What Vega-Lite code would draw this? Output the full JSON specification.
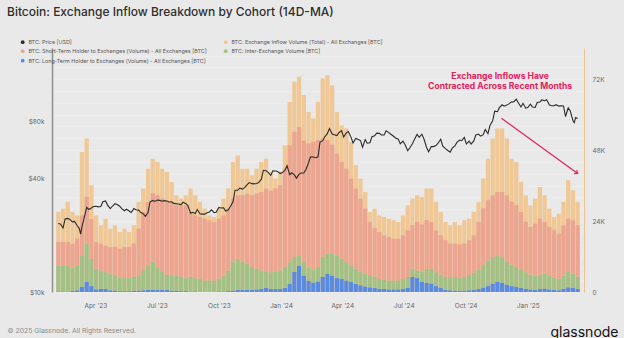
{
  "$schema": "https://vega.github.io/schema/vega-lite/v6.json",
  "width": 532,
  "height": 244,
  "autosize": {"type": "none"},
  "padding": {"left": 52, "top": 48, "right": 40, "bottom": 46},
  "background": "#e9e9e9",
  "config": {"view": {"stroke": null}, "font": "Inter", "text": {"font": "Inter"}},
  "title": {"text": "Bitcoin: Exchange Inflow Breakdown by Cohort (14D-MA)", "anchor": "start", "frame": "group", "dx": -45, "offset": 20, "fontSize": 12, "fontWeight": 500, "color": "#2e2e2e", "font": "Inter"},
  "datasets": {
    "weeks": [
      {"d":"2023-02-05","total":27100,"lth":200,"inter":8800,"sth":7900},
      {"d":"2023-02-12","total":28200,"lth":200,"inter":8800,"sth":7900},
      {"d":"2023-02-19","total":30500,"lth":200,"inter":8600,"sth":8100},
      {"d":"2023-02-26","total":27100,"lth":300,"inter":8100,"sth":7900},
      {"d":"2023-03-05","total":25900,"lth":600,"inter":8500,"sth":9000},
      {"d":"2023-03-12","total":47400,"lth":1700,"inter":10700,"sth":13500},
      {"d":"2023-03-19","total":51900,"lth":3400,"inter":13000,"sth":15800},
      {"d":"2023-03-26","total":36100,"lth":2000,"inter":9200,"sth":13500},
      {"d":"2023-04-02","total":25900,"lth":900,"inter":7000,"sth":9000},
      {"d":"2023-04-09","total":22600,"lth":1100,"inter":6200,"sth":9000},
      {"d":"2023-04-16","total":24800,"lth":1100,"inter":5600,"sth":9000},
      {"d":"2023-04-23","total":21400,"lth":600,"inter":5600,"sth":9000},
      {"d":"2023-04-30","total":22600,"lth":500,"inter":5200,"sth":9600},
      {"d":"2023-05-07","total":20300,"lth":300,"inter":4700,"sth":9600},
      {"d":"2023-05-14","total":21400,"lth":300,"inter":4700,"sth":10200},
      {"d":"2023-05-21","total":20300,"lth":300,"inter":4400,"sth":10500},
      {"d":"2023-05-28","total":22600,"lth":500,"inter":4600,"sth":11300},
      {"d":"2023-06-04","total":30500,"lth":500,"inter":5200,"sth":15800},
      {"d":"2023-06-11","total":35000,"lth":600,"inter":6800,"sth":19700},
      {"d":"2023-06-18","total":41700,"lth":700,"inter":8300,"sth":21400},
      {"d":"2023-06-25","total":45100,"lth":800,"inter":9500,"sth":23100},
      {"d":"2023-07-02","total":44000,"lth":700,"inter":7700,"sth":24300},
      {"d":"2023-07-09","total":41700,"lth":800,"inter":6000,"sth":24800},
      {"d":"2023-07-16","total":40600,"lth":700,"inter":5100,"sth":24600},
      {"d":"2023-07-23","total":37200,"lth":500,"inter":5200,"sth":24400},
      {"d":"2023-07-30","total":32700,"lth":500,"inter":5000,"sth":23900},
      {"d":"2023-08-06","total":31600,"lth":300,"inter":4800,"sth":24300},
      {"d":"2023-08-13","total":32700,"lth":300,"inter":4700,"sth":24300},
      {"d":"2023-08-20","total":35000,"lth":200,"inter":4900,"sth":22000},
      {"d":"2023-08-27","total":32700,"lth":200,"inter":4500,"sth":21200},
      {"d":"2023-09-03","total":30500,"lth":100,"inter":4400,"sth":20900},
      {"d":"2023-09-10","total":28200,"lth":100,"inter":3800,"sth":20900},
      {"d":"2023-09-17","total":25900,"lth":100,"inter":3800,"sth":20300},
      {"d":"2023-09-24","total":25400,"lth":100,"inter":3800,"sth":19700},
      {"d":"2023-10-01","total":28200,"lth":200,"inter":4300,"sth":20300},
      {"d":"2023-10-08","total":31600,"lth":200,"inter":5400,"sth":20300},
      {"d":"2023-10-15","total":35000,"lth":300,"inter":7000,"sth":20900},
      {"d":"2023-10-22","total":44000,"lth":500,"inter":9700,"sth":21400},
      {"d":"2023-10-29","total":46200,"lth":700,"inter":10600,"sth":21400},
      {"d":"2023-11-05","total":41700,"lth":700,"inter":9500,"sth":22600},
      {"d":"2023-11-12","total":41700,"lth":800,"inter":8800,"sth":23700},
      {"d":"2023-11-19","total":39500,"lth":800,"inter":7600,"sth":24300},
      {"d":"2023-11-26","total":41700,"lth":900,"inter":7000,"sth":25400},
      {"d":"2023-12-03","total":44000,"lth":1100,"inter":6200,"sth":26500},
      {"d":"2023-12-10","total":45100,"lth":1400,"inter":5400,"sth":28200},
      {"d":"2023-12-17","total":40600,"lth":1100,"inter":5600,"sth":27600},
      {"d":"2023-12-24","total":38400,"lth":1000,"inter":5800,"sth":28200},
      {"d":"2023-12-31","total":40600,"lth":1000,"inter":6300,"sth":28800},
      {"d":"2024-01-07","total":49600,"lth":1400,"inter":7100,"sth":33300},
      {"d":"2024-01-14","total":64300,"lth":2800,"inter":7300,"sth":39500},
      {"d":"2024-01-21","total":71100,"lth":6800,"inter":5100,"sth":42300},
      {"d":"2024-01-28","total":72800,"lth":8800,"inter":3600,"sth":43400},
      {"d":"2024-02-04","total":66600,"lth":5600,"inter":4500,"sth":41100},
      {"d":"2024-02-11","total":60900,"lth":3900,"inter":4200,"sth":42100},
      {"d":"2024-02-18","total":58700,"lth":3200,"inter":4200,"sth":43400},
      {"d":"2024-02-25","total":64300,"lth":3600,"inter":4900,"sth":42900},
      {"d":"2024-03-03","total":72200,"lth":5100,"inter":6800,"sth":40000},
      {"d":"2024-03-10","total":73300,"lth":6200,"inter":6800,"sth":38400},
      {"d":"2024-03-17","total":69900,"lth":5600,"inter":7300,"sth":36900},
      {"d":"2024-03-24","total":60900,"lth":4700,"inter":7700,"sth":34400},
      {"d":"2024-03-31","total":56400,"lth":4500,"inter":6800,"sth":32700},
      {"d":"2024-04-07","total":55300,"lth":3900,"inter":6200,"sth":31600},
      {"d":"2024-04-14","total":50800,"lth":3400,"inter":5400,"sth":29600},
      {"d":"2024-04-21","total":42900,"lth":2800,"inter":5100,"sth":27100},
      {"d":"2024-04-28","total":38400,"lth":2300,"inter":4700,"sth":24600},
      {"d":"2024-05-05","total":33800,"lth":1900,"inter":4300,"sth":22000},
      {"d":"2024-05-12","total":27100,"lth":1600,"inter":4100,"sth":18000},
      {"d":"2024-05-19","total":28200,"lth":1400,"inter":3800,"sth":16400},
      {"d":"2024-05-26","total":25900,"lth":1100,"inter":3400,"sth":15800},
      {"d":"2024-06-02","total":25400,"lth":1000,"inter":3200,"sth":14900},
      {"d":"2024-06-09","total":24800,"lth":900,"inter":3000,"sth":14700},
      {"d":"2024-06-16","total":24300,"lth":900,"inter":3000,"sth":14100},
      {"d":"2024-06-23","total":23700,"lth":900,"inter":3000,"sth":14100},
      {"d":"2024-06-30","total":25900,"lth":1000,"inter":3500,"sth":14700},
      {"d":"2024-07-07","total":29300,"lth":1400,"inter":3700,"sth":15800},
      {"d":"2024-07-14","total":31600,"lth":5100,"inter":2800,"sth":14700},
      {"d":"2024-07-21","total":32700,"lth":4700,"inter":2600,"sth":16400},
      {"d":"2024-07-28","total":32100,"lth":3400,"inter":3400,"sth":16000},
      {"d":"2024-08-04","total":35000,"lth":3200,"inter":4700,"sth":16400},
      {"d":"2024-08-11","total":35000,"lth":2900,"inter":5000,"sth":15800},
      {"d":"2024-08-18","total":30500,"lth":2000,"inter":4700,"sth":14100},
      {"d":"2024-08-25","total":27100,"lth":1500,"inter":4400,"sth":13300},
      {"d":"2024-09-01","total":23700,"lth":800,"inter":4300,"sth":12400},
      {"d":"2024-09-08","total":22600,"lth":600,"inter":4500,"sth":11300},
      {"d":"2024-09-15","total":23700,"lth":500,"inter":4600,"sth":11300},
      {"d":"2024-09-22","total":22600,"lth":500,"inter":4300,"sth":11300},
      {"d":"2024-09-29","total":24300,"lth":500,"inter":4600,"sth":11300},
      {"d":"2024-10-06","total":24800,"lth":600,"inter":5100,"sth":11800},
      {"d":"2024-10-13","total":27100,"lth":700,"inter":5900,"sth":12600},
      {"d":"2024-10-20","total":30500,"lth":1000,"inter":6700,"sth":16000},
      {"d":"2024-10-27","total":38400,"lth":1500,"inter":7600,"sth":19200},
      {"d":"2024-11-03","total":45100,"lth":2000,"inter":8700,"sth":20300},
      {"d":"2024-11-10","total":51900,"lth":2800,"inter":9000,"sth":20900},
      {"d":"2024-11-17","total":55300,"lth":3400,"inter":9000,"sth":21400},
      {"d":"2024-11-24","total":55300,"lth":3200,"inter":8300,"sth":22300},
      {"d":"2024-12-01","total":51900,"lth":2500,"inter":7900,"sth":22300},
      {"d":"2024-12-08","total":45100,"lth":2000,"inter":7200,"sth":21400},
      {"d":"2024-12-15","total":44000,"lth":1700,"inter":6800,"sth":20900},
      {"d":"2024-12-22","total":37200,"lth":1400,"inter":6300,"sth":19400},
      {"d":"2024-12-29","total":32700,"lth":1100,"inter":5600,"sth":17100},
      {"d":"2025-01-05","total":29300,"lth":900,"inter":5000,"sth":16100},
      {"d":"2025-01-12","total":31600,"lth":800,"inter":4800,"sth":17500},
      {"d":"2025-01-19","total":35500,"lth":1000,"inter":4900,"sth":19000},
      {"d":"2025-01-26","total":32700,"lth":1200,"inter":5000,"sth":17500},
      {"d":"2025-02-02","total":28200,"lth":900,"inter":4500,"sth":16600},
      {"d":"2025-02-09","total":25400,"lth":700,"inter":4100,"sth":16100},
      {"d":"2025-02-16","total":26500,"lth":600,"inter":3900,"sth":15200},
      {"d":"2025-02-23","total":30500,"lth":1100,"inter":4500,"sth":16900},
      {"d":"2025-03-02","total":37800,"lth":1600,"inter":5200,"sth":18000},
      {"d":"2025-03-09","total":34400,"lth":1400,"inter":4800,"sth":18000},
      {"d":"2025-03-16","total":30500,"lth":1100,"inter":4000,"sth":17500}
    ],
    "prices": [
      {"d":"2023-02-05","p":23000},{"d":"2023-02-08","p":22900},{"d":"2023-02-12","p":21800},{"d":"2023-02-15","p":24300},
      {"d":"2023-02-19","p":24500},{"d":"2023-02-22","p":24200},{"d":"2023-02-26","p":23500},{"d":"2023-03-01","p":23600},
      {"d":"2023-03-05","p":22400},{"d":"2023-03-08","p":21700},{"d":"2023-03-10","p":20200},{"d":"2023-03-12","p":22100},
      {"d":"2023-03-15","p":24400},{"d":"2023-03-19","p":28000},{"d":"2023-03-22","p":27300},{"d":"2023-03-26","p":27800},
      {"d":"2023-03-29","p":28300},{"d":"2023-04-02","p":28400},{"d":"2023-04-05","p":28200},{"d":"2023-04-09","p":28300},
      {"d":"2023-04-12","p":30000},{"d":"2023-04-16","p":30300},{"d":"2023-04-19","p":28800},{"d":"2023-04-23","p":27600},
      {"d":"2023-04-26","p":28400},{"d":"2023-04-30","p":29300},{"d":"2023-05-03","p":29000},{"d":"2023-05-07","p":28400},
      {"d":"2023-05-10","p":27600},{"d":"2023-05-14","p":26900},{"d":"2023-05-17","p":27400},{"d":"2023-05-21","p":26800},
      {"d":"2023-05-24","p":26300},{"d":"2023-05-28","p":27600},{"d":"2023-05-31","p":27200},{"d":"2023-06-04","p":27100},
      {"d":"2023-06-07","p":26400},{"d":"2023-06-11","p":25900},{"d":"2023-06-14","p":25100},{"d":"2023-06-18","p":26300},
      {"d":"2023-06-21","p":30000},{"d":"2023-06-25","p":30500},{"d":"2023-06-28","p":30100},{"d":"2023-07-02","p":30600},
      {"d":"2023-07-05","p":30500},{"d":"2023-07-09","p":30200},{"d":"2023-07-12","p":30400},{"d":"2023-07-16","p":30300},
      {"d":"2023-07-19","p":29900},{"d":"2023-07-23","p":30000},{"d":"2023-07-26","p":29400},{"d":"2023-07-30","p":29300},
      {"d":"2023-08-02","p":29200},{"d":"2023-08-06","p":29000},{"d":"2023-08-09","p":29800},{"d":"2023-08-13","p":29300},
      {"d":"2023-08-16","p":28700},{"d":"2023-08-20","p":26100},{"d":"2023-08-23","p":26400},{"d":"2023-08-27","p":26000},
      {"d":"2023-08-30","p":27300},{"d":"2023-09-03","p":25900},{"d":"2023-09-06","p":25800},{"d":"2023-09-10","p":25800},
      {"d":"2023-09-13","p":26200},{"d":"2023-09-17","p":26500},{"d":"2023-09-20","p":27200},{"d":"2023-09-24","p":26300},
      {"d":"2023-09-27","p":26400},{"d":"2023-10-01","p":28000},{"d":"2023-10-04","p":27800},{"d":"2023-10-08","p":27900},
      {"d":"2023-10-11","p":26800},{"d":"2023-10-15","p":27200},{"d":"2023-10-18","p":28300},{"d":"2023-10-22","p":30000},
      {"d":"2023-10-25","p":34500},{"d":"2023-10-29","p":34500},{"d":"2023-11-01","p":35400},{"d":"2023-11-05","p":35000},
      {"d":"2023-11-08","p":35600},{"d":"2023-11-12","p":37000},{"d":"2023-11-15","p":37900},{"d":"2023-11-19","p":37400},
      {"d":"2023-11-22","p":37300},{"d":"2023-11-26","p":37500},{"d":"2023-11-29","p":37900},{"d":"2023-12-03","p":39500},
      {"d":"2023-12-06","p":44000},{"d":"2023-12-10","p":43800},{"d":"2023-12-13","p":42900},{"d":"2023-12-17","p":41400},
      {"d":"2023-12-20","p":43700},{"d":"2023-12-24","p":43600},{"d":"2023-12-27","p":43400},{"d":"2023-12-31","p":42300},
      {"d":"2024-01-03","p":42800},{"d":"2024-01-07","p":43900},{"d":"2024-01-10","p":46600},{"d":"2024-01-14","p":41700},
      {"d":"2024-01-17","p":42700},{"d":"2024-01-21","p":41600},{"d":"2024-01-24","p":40000},{"d":"2024-01-28","p":42000},
      {"d":"2024-01-31","p":42600},{"d":"2024-02-04","p":42600},{"d":"2024-02-07","p":44300},{"d":"2024-02-11","p":48300},
      {"d":"2024-02-14","p":51800},{"d":"2024-02-18","p":51700},{"d":"2024-02-21","p":51300},{"d":"2024-02-25","p":51700},
      {"d":"2024-02-28","p":62000},{"d":"2024-03-03","p":63100},{"d":"2024-03-06","p":66100},{"d":"2024-03-10","p":68900},
      {"d":"2024-03-13","p":73100},{"d":"2024-03-17","p":68400},{"d":"2024-03-20","p":67900},{"d":"2024-03-24","p":67200},
      {"d":"2024-03-27","p":69500},{"d":"2024-03-31","p":71300},{"d":"2024-04-03","p":66000},{"d":"2024-04-07","p":69400},
      {"d":"2024-04-10","p":70600},{"d":"2024-04-14","p":65700},{"d":"2024-04-17","p":61300},{"d":"2024-04-21","p":64900},
      {"d":"2024-04-24","p":64300},{"d":"2024-04-28","p":63100},{"d":"2024-05-01","p":58300},{"d":"2024-05-05","p":64000},
      {"d":"2024-05-08","p":61200},{"d":"2024-05-12","p":61500},{"d":"2024-05-15","p":66200},{"d":"2024-05-19","p":66900},
      {"d":"2024-05-22","p":69200},{"d":"2024-05-26","p":69000},{"d":"2024-05-29","p":67600},{"d":"2024-06-02","p":67700},
      {"d":"2024-06-05","p":71100},{"d":"2024-06-09","p":69600},{"d":"2024-06-12","p":68200},{"d":"2024-06-16","p":66600},
      {"d":"2024-06-19","p":65200},{"d":"2024-06-23","p":64300},{"d":"2024-06-26","p":60800},{"d":"2024-06-30","p":62700},
      {"d":"2024-07-03","p":60200},{"d":"2024-07-07","p":55900},{"d":"2024-07-10","p":57700},{"d":"2024-07-14","p":60800},
      {"d":"2024-07-17","p":64100},{"d":"2024-07-21","p":68200},{"d":"2024-07-24","p":65800},{"d":"2024-07-28","p":68300},
      {"d":"2024-07-31","p":64600},{"d":"2024-08-04","p":58100},{"d":"2024-08-07","p":55100},{"d":"2024-08-11","p":58700},
      {"d":"2024-08-14","p":58700},{"d":"2024-08-18","p":59500},{"d":"2024-08-21","p":61200},{"d":"2024-08-25","p":64200},
      {"d":"2024-08-28","p":59000},{"d":"2024-09-01","p":57300},{"d":"2024-09-04","p":56200},{"d":"2024-09-08","p":54800},
      {"d":"2024-09-11","p":57600},{"d":"2024-09-15","p":59200},{"d":"2024-09-18","p":61800},{"d":"2024-09-22","p":63600},
      {"d":"2024-09-25","p":63100},{"d":"2024-09-29","p":65600},{"d":"2024-10-02","p":60600},{"d":"2024-10-06","p":62800},
      {"d":"2024-10-09","p":60600},{"d":"2024-10-13","p":62900},{"d":"2024-10-16","p":67600},{"d":"2024-10-20","p":68400},
      {"d":"2024-10-23","p":66700},{"d":"2024-10-27","p":67900},{"d":"2024-10-30","p":72300},{"d":"2024-11-03","p":68700},
      {"d":"2024-11-06","p":75900},{"d":"2024-11-10","p":80400},{"d":"2024-11-13","p":90400},{"d":"2024-11-17","p":89800},
      {"d":"2024-11-20","p":94300},{"d":"2024-11-24","p":97700},{"d":"2024-11-27","p":96000},{"d":"2024-12-01","p":97300},
      {"d":"2024-12-04","p":98800},{"d":"2024-12-08","p":101200},{"d":"2024-12-11","p":101100},{"d":"2024-12-15","p":104500},
      {"d":"2024-12-18","p":100200},{"d":"2024-12-22","p":95100},{"d":"2024-12-25","p":99400},{"d":"2024-12-29","p":93700},
      {"d":"2025-01-01","p":94500},{"d":"2025-01-05","p":98300},{"d":"2025-01-08","p":95000},{"d":"2025-01-12","p":94500},
      {"d":"2025-01-15","p":100500},{"d":"2025-01-19","p":101100},{"d":"2025-01-22","p":103700},{"d":"2025-01-26","p":102600},
      {"d":"2025-01-29","p":103800},{"d":"2025-02-02","p":97700},{"d":"2025-02-05","p":96600},{"d":"2025-02-09","p":96500},
      {"d":"2025-02-12","p":97800},{"d":"2025-02-16","p":96100},{"d":"2025-02-19","p":96600},{"d":"2025-02-23","p":96300},
      {"d":"2025-02-26","p":84700},{"d":"2025-03-02","p":94200},{"d":"2025-03-05","p":90600},{"d":"2025-03-09","p":80700},
      {"d":"2025-03-11","p":78600},{"d":"2025-03-13","p":83700},{"d":"2025-03-16","p":82600}
    ]
  },
  "data": {"name": "weeks"},
  "encoding": {
    "x": {
      "field": "d", "type": "temporal",
      "scale": {"type": "utc", "domain": [{"year": 2023, "month": 2, "date": 3, "utc": true}, {"year": 2025, "month": 3, "date": 18, "utc": true}]},
      "axis": {
        "values": [
          {"year": 2023, "month": 4, "date": 1, "utc": true},
          {"year": 2023, "month": 7, "date": 1, "utc": true},
          {"year": 2023, "month": 10, "date": 1, "utc": true},
          {"year": 2024, "month": 1, "date": 1, "utc": true},
          {"year": 2024, "month": 4, "date": 1, "utc": true},
          {"year": 2024, "month": 7, "date": 1, "utc": true},
          {"year": 2024, "month": 10, "date": 1, "utc": true},
          {"year": 2025, "month": 1, "date": 1, "utc": true}
        ],
        "labelExpr": "utcFormat(datum.value, \"%b '%y\")",
        "labelFontSize": 6.5, "labelColor": "#666666", "labelPadding": 10, "tickSize": 0, "domain": false, "grid": false,
        "title": "© 2025 Glassnode. All Rights Reserved.", "titleX": -45, "titleY": 38, "titleAlign": "left", "titleAnchor": "start", "titleBaseline": "middle",
        "titleFontSize": 6.8, "titleFontWeight": "normal", "titleColor": "#8a8a8a"
      }
    }
  },
  "layer": [
    {
      "mark": {"type": "bar", "width": 4.3},
      "encoding": {
        "y": {
          "field": "total", "type": "quantitative",
          "scale": {"domain": [0, 82540]},
          "axis": {
            "orient": "right",
            "values": [0, 4000, 8000, 12000, 16000, 20000, 24000, 28000, 32000, 36000, 40000, 44000, 48000, 52000, 56000, 60000, 64000, 68000, 72000, 76000, 80000],
            "labelExpr": "datum.value % 24000 == 0 ? (datum.value == 0 ? '0' : (datum.value / 1000) + 'K') : ''",
            "grid": true, "gridColor": "#f0f0f0", "gridWidth": 0.6,
            "tickSize": 0, "labelPadding": 8, "labelFontSize": 6.5, "labelColor": "#666666",
            "domainColor": "#f0c38e", "domainWidth": 1,
            "title": "glassnode", "titleAngle": 0, "titleX": -34, "titleY": 284, "titleAlign": "left", "titleBaseline": "middle",
            "titleFontSize": 14, "titleFontWeight": "normal", "titleColor": "#111111"
          }
        },
        "color": {
          "datum": "total",
          "scale": {"domain": ["price", "sth", "lth", "total", "inter"], "range": ["#2b2b2b", "#eba590", "#5a8be0", "#f0c896", "#a3c187"]},
          "legend": {
            "orient": "none", "legendX": -32, "legendY": -9, "columns": 2, "title": null,
            "symbolType": "circle", "symbolSize": 14, "symbolStrokeWidth": 0, "labelFontSize": 5.4, "labelColor": "#555555",
            "rowPadding": 2.5, "columnPadding": 16, "labelOffset": 3, "labelLimit": 400, "padding": 0,
            "labelExpr": "datum.label == 'price' ? 'BTC: Price [USD]' : datum.label == 'total' ? 'BTC: Exchange Inflow Volume (Total) - All Exchanges [BTC]' : datum.label == 'sth' ? 'BTC: Short-Term Holder to Exchanges (Volume) - All Exchanges [BTC]' : datum.label == 'inter' ? 'BTC: Inter-Exchange Volume [BTC]' : 'BTC: Long-Term Holder to Exchanges (Volume) - All Exchanges [BTC]'"
          }
        }
      }
    },
    {
      "transform": [
        {"fold": ["lth", "inter", "sth"], "as": ["series", "value"]},
        {"window": [{"op": "row_number", "as": "rank"}], "groupby": ["d"]}
      ],
      "mark": {"type": "bar", "width": 4.3},
      "encoding": {
        "y": {"field": "value", "type": "quantitative", "stack": "zero", "scale": {"domain": [0, 82540]}, "axis": null},
        "order": {"field": "rank", "type": "quantitative", "sort": "ascending"},
        "color": {
          "field": "series", "type": "nominal",
          "scale": {"domain": ["price", "sth", "lth", "total", "inter"], "range": ["#2b2b2b", "#eba590", "#5a8be0", "#f0c896", "#a3c187"]},
          "legend": {
            "orient": "none", "legendX": -32, "legendY": -9, "columns": 2, "title": null,
            "symbolType": "circle", "symbolSize": 14, "symbolStrokeWidth": 0, "labelFontSize": 5.4, "labelColor": "#555555",
            "rowPadding": 2.5, "columnPadding": 16, "labelOffset": 3, "labelLimit": 400, "padding": 0,
            "labelExpr": "datum.label == 'price' ? 'BTC: Price [USD]' : datum.label == 'total' ? 'BTC: Exchange Inflow Volume (Total) - All Exchanges [BTC]' : datum.label == 'sth' ? 'BTC: Short-Term Holder to Exchanges (Volume) - All Exchanges [BTC]' : datum.label == 'inter' ? 'BTC: Inter-Exchange Volume [BTC]' : 'BTC: Long-Term Holder to Exchanges (Volume) - All Exchanges [BTC]'"
          }
        }
      }
    },
    {
      "data": {"name": "prices"},
      "mark": {"type": "line", "strokeWidth": 1.1, "interpolate": "linear"},
      "encoding": {
        "y": {
          "field": "p", "type": "quantitative",
          "scale": {"type": "log", "domain": [10000, 195000]},
          "axis": {
            "orient": "left", "values": [10000, 40000, 80000],
            "labelExpr": "'$' + (datum.value / 1000) + 'k'",
            "tickSize": 0, "labelPadding": 8, "grid": false, "domainColor": "#8f8f8f", "domainWidth": 1.5,
            "title": null, "labelFontSize": 6.5, "labelColor": "#666666"
          }
        },
        "color": {
          "datum": "price",
          "scale": {"domain": ["price", "sth", "lth", "total", "inter"], "range": ["#2b2b2b", "#eba590", "#5a8be0", "#f0c896", "#a3c187"]},
          "legend": {
            "orient": "none", "legendX": -32, "legendY": -9, "columns": 2, "title": null,
            "symbolType": "circle", "symbolSize": 14, "symbolStrokeWidth": 0, "labelFontSize": 5.4, "labelColor": "#555555",
            "rowPadding": 2.5, "columnPadding": 16, "labelOffset": 3, "labelLimit": 400, "padding": 0,
            "labelExpr": "datum.label == 'price' ? 'BTC: Price [USD]' : datum.label == 'total' ? 'BTC: Exchange Inflow Volume (Total) - All Exchanges [BTC]' : datum.label == 'sth' ? 'BTC: Short-Term Holder to Exchanges (Volume) - All Exchanges [BTC]' : datum.label == 'inter' ? 'BTC: Inter-Exchange Volume [BTC]' : 'BTC: Long-Term Holder to Exchanges (Volume) - All Exchanges [BTC]'"
          }
        }
      }
    },
    {
      "data": {"values": [{"d": "2024-11-23", "v": 58800, "d2": "2025-03-16", "v2": 40100}]},
      "mark": {"type": "rule", "color": "#e3205d", "strokeWidth": 1.2},
      "encoding": {
        "x2": {"field": "d2"},
        "y": {"field": "v", "type": "quantitative", "scale": {"domain": [0, 82540]}, "axis": null},
        "y2": {"field": "v2"}
      }
    },
    {
      "data": {"values": [{"d": "2025-03-16", "v": 40100}]},
      "mark": {"type": "point", "shape": "M-1,-0.8L0,0L-1,0.8", "filled": false, "color": "#e3205d", "strokeWidth": 1.2, "size": 30, "angle": 35, "opacity": 1},
      "encoding": {
        "y": {"field": "v", "type": "quantitative", "scale": {"domain": [0, 82540]}, "axis": null}
      }
    },
    {
      "data": {"values": [
        {"d": "2024-11-21", "v": 73200, "t": "Exchange Inflows Have"},
        {"d": "2024-11-21", "v": 69800, "t": "Contracted Across Recent Months"}
      ]},
      "mark": {"type": "text", "font": "Inter", "fontSize": 8.6, "fontWeight": 700, "color": "#e3205d", "align": "center", "baseline": "middle"},
      "encoding": {
        "y": {"field": "v", "type": "quantitative", "scale": {"domain": [0, 82540]}, "axis": null},
        "text": {"field": "t"}
      }
    }
  ],
  "resolve": {"scale": {"y": "independent"}, "axis": {"y": "independent"}}
}
